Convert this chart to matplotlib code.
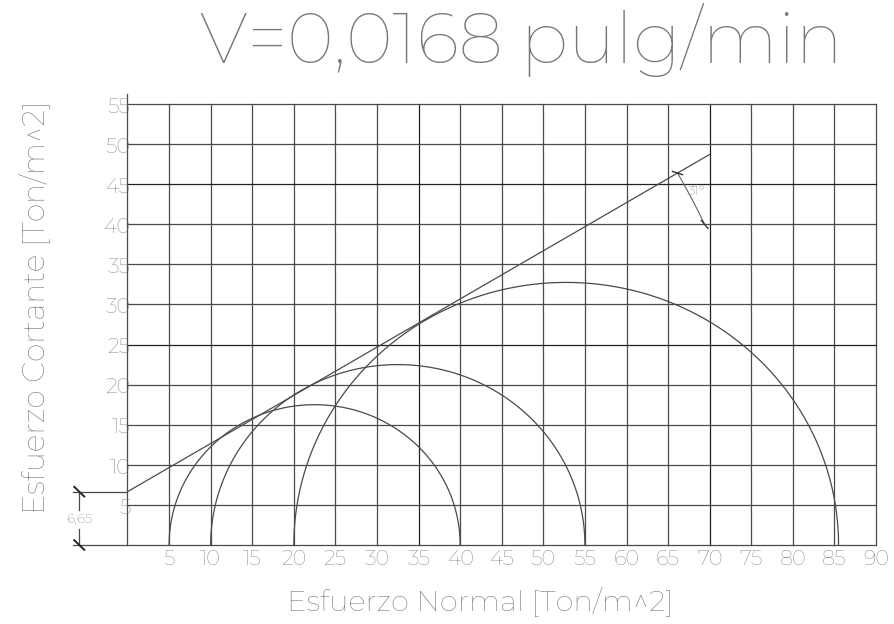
import numpy as np
import matplotlib
matplotlib.use("Agg")
import matplotlib.pyplot as plt

# ---- data ----
x_ticks = [5, 10, 15, 20, 25, 30, 35, 40, 45, 50, 55, 60, 65, 70, 75, 80, 85, 90]
y_ticks = [5, 10, 15, 20, 25, 30, 35, 40, 45, 50, 55]
sigma3 = [5, 10, 20]          # minor principal stress
sigma1 = [40, 55, 85.5]       # major principal stress
cohesion = 6.65
cohesion_label = "6,65"
phi_deg = 31
env_xmax = 70
title = "V=0,0168 pulg/min"
xlabel = "Esfuerzo Normal [Ton/m^2]"
ylabel = "Esfuerzo Cortante [Ton/m^2]"

W, H = 895, 624
fig = plt.figure(figsize=(W / 100, H / 100), dpi=100)
x0px, x1px = 127.5, 876
y0px, y1px = 545, 104
ax = fig.add_axes([x0px / W, 1 - y0px / H, (x1px - x0px) / W, (y0px - y1px) / H])
ax.set_xlim(0, 90)
ax.set_ylim(0, 55)
ax.axis("off")

FONT = ["Montserrat", "DejaVu Sans"]
tc = "#6e6e6e"
lc = "#4a4a4a"
lw = 0.9

# grid
dark = {35, 70}
darky = {25, 45}
for xv in x_ticks:
    ax.plot([xv, xv], [0, 55], color="#222222" if xv in dark else lc, lw=lw, clip_on=False)
for yv in y_ticks:
    ax.plot([0, 90], [yv, yv], color="#222222" if yv in darky else lc, lw=lw, clip_on=False)
ax.plot([0, 90], [0, 0], color=lc, lw=lw, clip_on=False)
ax.plot([0, 0], [0, 56.2], color=lc, lw=lw, clip_on=False)

# tick labels
for xv in x_ticks:
    ax.text(xv, -1.75, str(xv), ha="center", va="center", fontsize=15, color=tc, family=FONT)
for yv in y_ticks:
    ax.text(0.35, yv - 0.4, str(yv), ha="right", va="center", fontsize=15, color=tc, family=FONT)

# Mohr circles
t = np.linspace(0, np.pi, 400)
for s3, s1 in zip(sigma3, sigma1):
    c = (s1 + s3) / 2
    r = (s1 - s3) / 2
    ax.plot(c + r * np.cos(t), r * np.sin(t), color=lc, lw=lw)

# failure envelope
tanphi = np.tan(np.radians(phi_deg))
ex = np.array([0, env_xmax])
ax.plot(ex, cohesion + ex * tanphi, color=lc, lw=lw)

# angle dimension (arc around the envelope's x-intercept)
sx = (x1px - x0px) / 90
sy = (y0px - y1px) / 55
xi = -cohesion / tanphi
ang_line = np.degrees(np.arctan(tanphi * sy / sx))
Rpx = 742
ta = np.radians(np.linspace(ang_line, 25.6, 50))
arc_x = xi + Rpx * np.cos(ta) / sx
arc_y = Rpx * np.sin(ta) / sy
ax.plot(arc_x, arc_y, color="#666666", lw=0.8)
ax.plot([arc_x[0] - 0.6, arc_x[0] + 0.6], [arc_y[0] + 0.2, arc_y[0] - 0.2], color="#333333", lw=1.0)
ax.plot([arc_x[-1] - 0.4, arc_x[-1] + 0.4], [arc_y[-1] + 0.5, arc_y[-1] - 0.5], color="#333333", lw=1.0)
ax.text(arc_x[len(arc_x) // 2] + 0.6, arc_y[len(arc_y) // 2] + 0.9, f"{phi_deg}°",
        ha="center", va="center", fontsize=9.5, color="#555555", family=FONT)

# cohesion dimension on the left
dx = -5.8
ax.plot([dx - 0.7, 0], [cohesion, cohesion], color=lc, lw=lw, clip_on=False)
ax.plot([dx - 0.7, 0], [0, 0], color=lc, lw=lw, clip_on=False)
ax.plot([dx, dx], [cohesion, cohesion * 0.66], color=lc, lw=lw, clip_on=False)
ax.plot([dx, dx], [cohesion * 0.30, 0], color=lc, lw=lw, clip_on=False)
for yv in (0, cohesion):
    ax.plot([dx - 0.6, dx + 0.6], [yv + 0.6, yv - 0.6], color="#222222", lw=1.4, clip_on=False)
ax.text(dx, cohesion * 0.48, cohesion_label, ha="center", va="center",
        fontsize=10, color="#666666", family=FONT, clip_on=False)

# titles
fig.text(200 / W, 1 - 40 / H, title, ha="left", va="center", fontsize=51, color="#777777",
         family=FONT)
fig.text(480 / W, 1 - 602 / H, xlabel, ha="center", va="center", fontsize=21, color=tc,
         family=FONT)
fig.text(35 / W, 1 - 307 / H, ylabel, ha="center", va="center", rotation=90, fontsize=21.5,
         color=tc, family=FONT)

fig.savefig("out.png", dpi=100, facecolor="white")
